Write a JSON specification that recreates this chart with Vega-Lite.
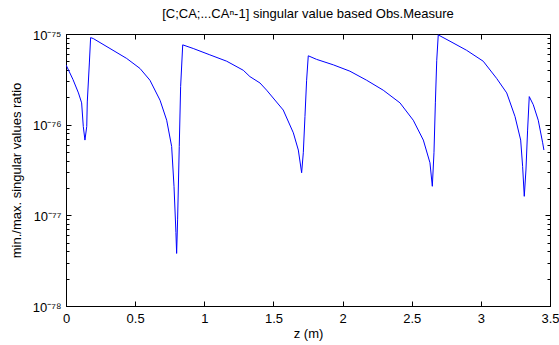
{
  "$schema": "https://vega.github.io/schema/vega-lite/v6.json",
  "autosize": "none",
  "width": 484,
  "height": 272,
  "padding": {"left": 66, "top": 34, "right": 9, "bottom": 39},
  "background": "white",
  "config": {
    "view": {"stroke": "#000", "strokeWidth": 1},
    "font": "Liberation Sans",
    "axis": {"labelFont": "Liberation Sans", "titleFont": "Liberation Sans", "labelColor": "#000", "titleColor": "#000", "domainColor": "#000", "tickColor": "#000", "labelFontSize": 13, "titleFontSize": 13, "titleFontWeight": "normal", "grid": false}
  },
  "title": {"text": "[C;CA;...CAⁿ-1] singular value based Obs.Measure", "fontSize": 13, "fontWeight": "normal", "font": "Liberation Sans", "color": "#000", "offset": 8},
  "data": {"values": [
    {"z": 0.0, "ratio": 4.57e-76},
    {"z": 0.05, "ratio": 3.16e-76},
    {"z": 0.09, "ratio": 2.24e-76},
    {"z": 0.113, "ratio": 1.74e-76},
    {"z": 0.125, "ratio": 9.55e-77},
    {"z": 0.137, "ratio": 6.76e-77},
    {"z": 0.15, "ratio": 9.55e-77},
    {"z": 0.154, "ratio": 1.78e-76},
    {"z": 0.169, "ratio": 4.79e-76},
    {"z": 0.178, "ratio": 9.12e-76},
    {"z": 0.197, "ratio": 8.91e-76},
    {"z": 0.318, "ratio": 6.92e-76},
    {"z": 0.439, "ratio": 5.37e-76},
    {"z": 0.535, "ratio": 4.17e-76},
    {"z": 0.607, "ratio": 3.09e-76},
    {"z": 0.68, "ratio": 1.86e-76},
    {"z": 0.728, "ratio": 1.12e-76},
    {"z": 0.764, "ratio": 5.75e-77},
    {"z": 0.781, "ratio": 2.09e-77},
    {"z": 0.795, "ratio": 6.46e-78},
    {"z": 0.8, "ratio": 3.8e-78},
    {"z": 0.807, "ratio": 8.91e-78},
    {"z": 0.819, "ratio": 5.75e-77},
    {"z": 0.829, "ratio": 2.63e-76},
    {"z": 0.844, "ratio": 7.59e-76},
    {"z": 0.92, "ratio": 6.92e-76},
    {"z": 1.04, "ratio": 5.89e-76},
    {"z": 1.162, "ratio": 5.01e-76},
    {"z": 1.282, "ratio": 3.98e-76},
    {"z": 1.33, "ratio": 3.39e-76},
    {"z": 1.403, "ratio": 2.88e-76},
    {"z": 1.451, "ratio": 2.4e-76},
    {"z": 1.571, "ratio": 1.45e-76},
    {"z": 1.644, "ratio": 8.13e-77},
    {"z": 1.68, "ratio": 5.25e-77},
    {"z": 1.704, "ratio": 2.95e-77},
    {"z": 1.716, "ratio": 4.9e-77},
    {"z": 1.728, "ratio": 1.23e-76},
    {"z": 1.74, "ratio": 3.09e-76},
    {"z": 1.752, "ratio": 5.75e-76},
    {"z": 1.812, "ratio": 5.25e-76},
    {"z": 1.933, "ratio": 4.57e-76},
    {"z": 2.053, "ratio": 3.89e-76},
    {"z": 2.174, "ratio": 3.09e-76},
    {"z": 2.294, "ratio": 2.4e-76},
    {"z": 2.415, "ratio": 1.74e-76},
    {"z": 2.511, "ratio": 1.12e-76},
    {"z": 2.584, "ratio": 6.76e-77},
    {"z": 2.632, "ratio": 3.8e-77},
    {"z": 2.649, "ratio": 2.09e-77},
    {"z": 2.661, "ratio": 4.9e-77},
    {"z": 2.671, "ratio": 1.74e-76},
    {"z": 2.681, "ratio": 5.13e-76},
    {"z": 2.692, "ratio": 9.77e-76},
    {"z": 2.777, "ratio": 8.32e-76},
    {"z": 2.897, "ratio": 6.61e-76},
    {"z": 3.017, "ratio": 5.01e-76},
    {"z": 3.114, "ratio": 3.24e-76},
    {"z": 3.187, "ratio": 2.24e-76},
    {"z": 3.247, "ratio": 1.23e-76},
    {"z": 3.288, "ratio": 6.76e-77},
    {"z": 3.302, "ratio": 3.47e-77},
    {"z": 3.314, "ratio": 1.62e-77},
    {"z": 3.326, "ratio": 3.16e-77},
    {"z": 3.338, "ratio": 8.71e-77},
    {"z": 3.35, "ratio": 2.04e-76},
    {"z": 3.379, "ratio": 1.66e-76},
    {"z": 3.415, "ratio": 1.12e-76},
    {"z": 3.447, "ratio": 6.31e-77},
    {"z": 3.456, "ratio": 5.25e-77}
  ]},
  "layer": [
    {
      "mark": {"type": "line", "color": "#0000ff", "strokeWidth": 1, "clip": true},
      "encoding": {
        "x": {"field": "z", "type": "quantitative", "scale": {"domain": [0, 3.5], "nice": false, "zero": false},
          "axis": {"orient": "bottom", "title": "z (m)", "values": [0, 0.5, 1, 1.5, 2, 2.5, 3, 3.5], "format": "~g", "tickSize": -5, "labelPadding": 11, "titlePadding": 2, "labelFlush": false}},
        "y": {"field": "ratio", "type": "quantitative", "scale": {"type": "log", "domain": [1e-78, 1e-75], "nice": false},
          "axis": {"orient": "left", "title": "min./max. singular values ratio", "titlePadding": 9,
            "values": [1e-78, 2e-78, 3e-78, 4e-78, 5e-78, 6e-78, 7e-78, 8e-78, 9e-78, 1e-77, 2e-77, 3e-77, 4e-77, 5e-77, 6e-77, 7e-77, 8e-77, 9e-77, 1e-76, 2e-76, 3e-76, 4e-76, 5e-76, 6e-76, 7e-76, 8e-76, 9e-76, 1e-75],
            "labelExpr": "datum.value === 1e-75 ? '10⁻⁷⁵' : datum.value === 1e-76 ? '10⁻⁷⁶' : datum.value === 1e-77 ? '10⁻⁷⁷' : datum.value === 1e-78 ? '10⁻⁷⁸' : ''",
            "tickSize": {"condition": {"test": "datum.value === 1e-75 || datum.value === 1e-76 || datum.value === 1e-77 || datum.value === 1e-78", "value": -5}, "value": -3},
            "labelPadding": 10, "labelOffset": 1}}
      }
    },
    {
      "mark": {"type": "point", "opacity": 0},
      "encoding": {
        "x": {"field": "z", "type": "quantitative", "axis": {"orient": "top", "title": null, "labels": false, "values": [0, 0.5, 1, 1.5, 2, 2.5, 3, 3.5], "tickSize": -5}},
        "y": {"field": "ratio", "type": "quantitative",
          "axis": {"orient": "right", "title": null, "labels": false,
            "values": [1e-78, 2e-78, 3e-78, 4e-78, 5e-78, 6e-78, 7e-78, 8e-78, 9e-78, 1e-77, 2e-77, 3e-77, 4e-77, 5e-77, 6e-77, 7e-77, 8e-77, 9e-77, 1e-76, 2e-76, 3e-76, 4e-76, 5e-76, 6e-76, 7e-76, 8e-76, 9e-76, 1e-75],
            "tickSize": {"condition": {"test": "datum.value === 1e-75 || datum.value === 1e-76 || datum.value === 1e-77 || datum.value === 1e-78", "value": -5}, "value": -3}}}
      }
    }
  ],
  "resolve": {"axis": {"x": "independent", "y": "independent"}}
}
